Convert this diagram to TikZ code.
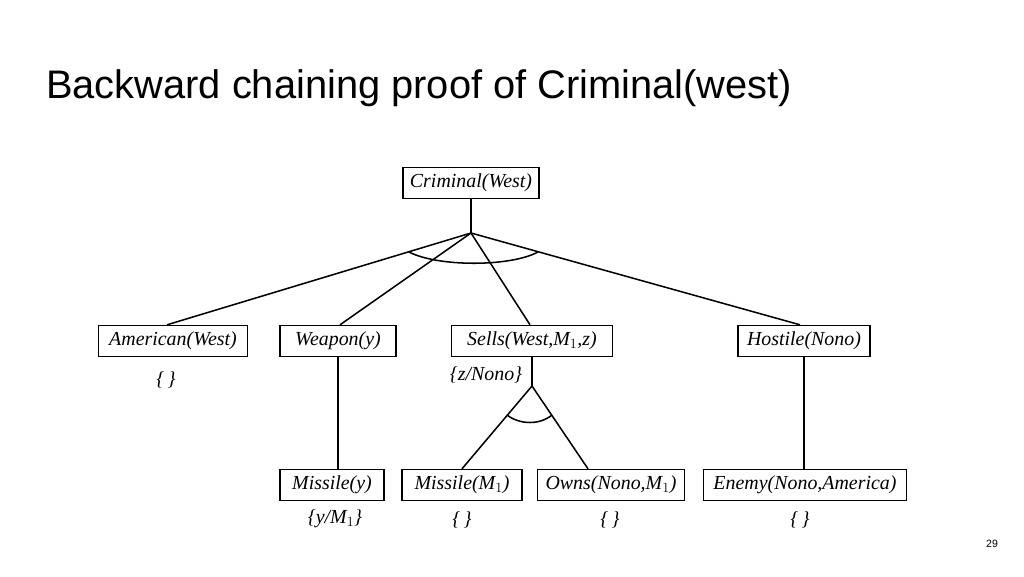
\documentclass[tikz,border=0pt]{standalone}
\usepackage{fontspec}
\setmainfont{Liberation Serif}
\newfontfamily\titlefont{Liberation Sans}
\usepackage{tikz}
\usetikzlibrary{calc}
\tikzstyle{goal}=[rectangle, draw=black, line width=1.2pt, inner sep=0pt, minimum height=0.93cm, font=\fontsize{17}{19}\selectfont\itshape, text centered]
\tikzstyle{subst}=[font=\fontsize{17}{19}\selectfont\itshape]
\tikzstyle{link}=[draw=black, line width=1.3pt]
\begin{document}
\begin{tikzpicture}[x=0.03cm, y=-0.03cm]
\useasboundingbox (0,0) rectangle (1024,576);
\node [anchor=west, font=\titlefont\fontsize{34}{38}\selectfont] (title) at (42,88) {Backward chaining proof of Criminal(west)};
\node [font=\titlefont\fontsize{9}{11}\selectfont] (page) at (992,544) {29};

\node [goal, minimum width=4.08cm] (crim) at (471,183) {Criminal(West)};
\node [goal, minimum width=4.47cm] (amer) at (173,341) {American(West)};
\node [goal, minimum width=3.48cm] (weap) at (338,341) {Weapon(y)};
\node [goal, minimum width=4.83cm] (sells) at (532,341) {Sells(West,M$_1$,z)};
\node [goal, minimum width=3.96cm] (host) at (804,341) {Hostile(Nono)};
\node [goal, minimum width=3.12cm] (mis1) at (332,485) {Missile(y)};
\node [goal, minimum width=3.6cm] (mis2) at (462,485) {Missile(M$_1$)};
\node [goal, minimum width=4.41cm] (owns) at (611,485) {Owns(Nono,M$_1$)};
\node [goal, minimum width=6.09cm] (enemy) at (805,485) {Enemy(Nono,America)};

\node [subst] (s1) at (166,380) {\{\,\}};
\node [subst] (s2) at (486,375) {\{z/Nono\}};
\node [subst] (s3) at (335,519) {\{y/M$_1$\}};
\node [subst] (s4) at (462,520) {\{\,\}};
\node [subst] (s5) at (610,520) {\{\,\}};
\node [subst] (s6) at (800,520) {\{\,\}};

\coordinate (j1) at (471,233);
\coordinate (j2) at (532,386);
\draw [link] (crim) -- (j1);
\draw [link] (j1) -- (amer.north -| 167,0);
\draw [link] (j1) -- (weap.north -| 340,0);
\draw [link] (j1) -- (sells.north -| 530,0);
\draw [link] (j1) -- (host.north -| 800,0);
\draw [link] (409,252) .. controls (438,267) and (510,267) .. (538,252);
\draw [link] (sells.south -| j2) -- (j2);
\draw [link] (j2) -- (mis2.north -| 462,0);
\draw [link] (j2) -- (owns.north -| 588,0);
\draw [link] (507,415) .. controls (520,425) and (540,425) .. (552,415);
\draw [link] (weap.south -| 338,0) -- (mis1.north -| 338,0);
\draw [link] (host) -- (host |- enemy.north);
\end{tikzpicture}
\end{document}
